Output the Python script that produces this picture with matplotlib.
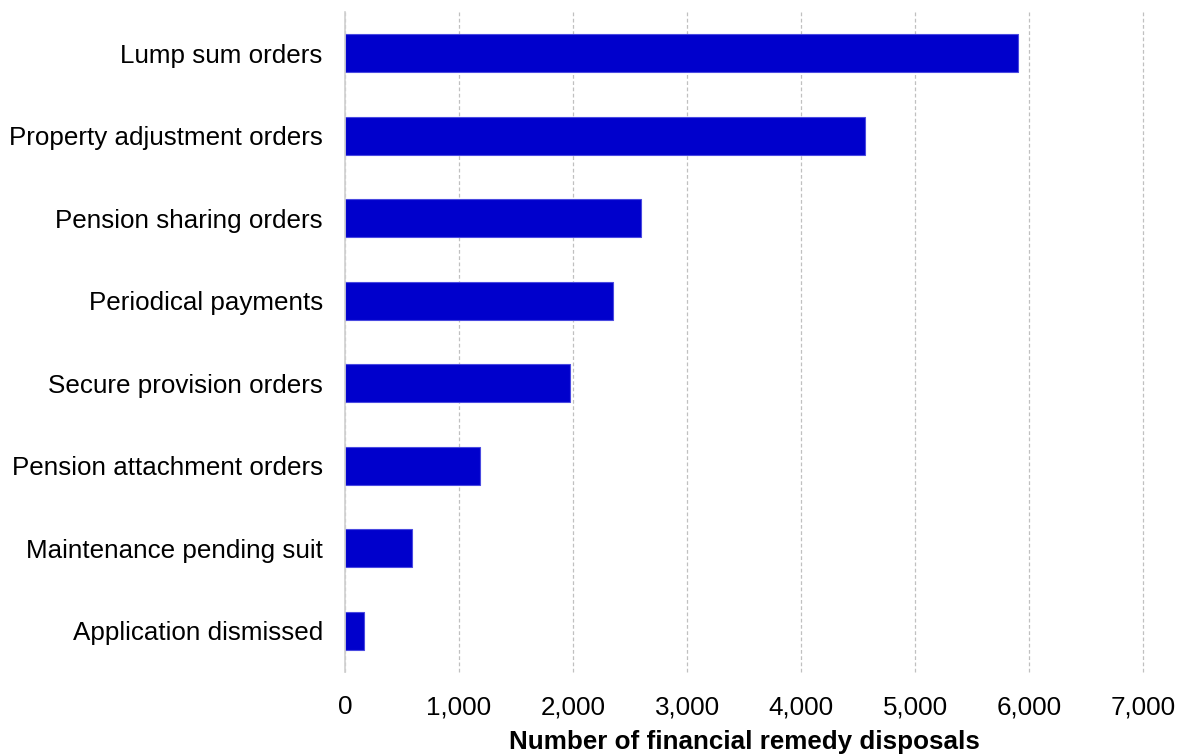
import matplotlib.pyplot as plt
from matplotlib.ticker import FuncFormatter, MultipleLocator

plt.rcParams['font.family'] = ['Liberation Sans', 'DejaVu Sans']

# Financial remedy disposals by type of order
categories = [
    "Lump sum orders",
    "Property adjustment orders",
    "Pension sharing orders",
    "Periodical payments",
    "Secure provision orders",
    "Pension attachment orders",
    "Maintenance pending suit",
    "Application dismissed",
]
disposals = [5900, 4560, 2600, 2350, 1970, 1180, 585, 165]

fig = plt.figure(figsize=(11.79, 7.56), dpi=100)
ax = fig.add_axes([0.2926, 0.111, 0.677, 0.873])

ypos = range(len(categories))
ax.barh(ypos, disposals, height=0.46, color="#0000CC",
        edgecolor="#4a4ae0", linewidth=0.8, zorder=3)

ax.set_yticks(list(ypos))
ax.set_yticklabels(categories)
ax.set_ylim(len(categories) - 0.5, -0.5)

ax.set_xlim(0, 7000)
ax.xaxis.set_major_locator(MultipleLocator(1000))
ax.xaxis.set_major_formatter(FuncFormatter(lambda v, p: f"{int(v):,}"))
ax.grid(axis="x", color="#c0c0c0", linestyle=(0, (3, 2)), linewidth=0.9, zorder=0)
# keep the 7,000 gridline whole at the right edge
for line in ax.get_xgridlines():
    line.set_clip_on(False)

for side in ["top", "right", "bottom"]:
    ax.spines[side].set_visible(False)
ax.spines["left"].set_color("#d0d0d0")
ax.spines["left"].set_linewidth(1.2)
ax.spines["left"].set_zorder(4)

ax.tick_params(axis="both", length=0, labelsize=18.7)
ax.tick_params(axis="y", pad=16)
ax.tick_params(axis="x", pad=16.5)

ax.set_xlabel("Number of financial remedy disposals", fontsize=18.7,
              fontweight="bold", labelpad=8)

fig.savefig("out.png", dpi=100)
